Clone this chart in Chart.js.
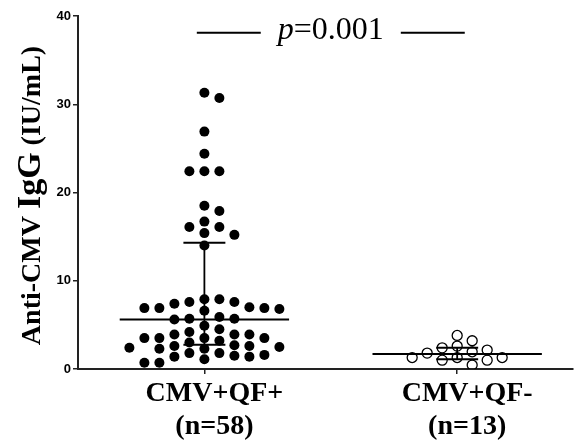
<!DOCTYPE html>
<html><head><meta charset="utf-8">
<script src="https://cdn.jsdelivr.net/npm/chart.js@4.4.0/dist/chart.umd.min.js"></script>
<style>html,body{margin:0;padding:0;background:#fff;}#wrap{width:579px;height:445px;}</style>
</head><body><div id="wrap"><canvas id="c" width="579" height="445"></canvas></div>
<script>
// ---- data ----
const categoryNames = ['CMV+QF+', 'CMV+QF-'];
const categoryCounts = ['(n=58)', '(n=13)'];
const groupPositive = [31.3, 30.7, 26.9, 24.4, 22.4, 22.4, 22.4, 18.5, 17.9, 16.7, 16.1, 16.1, 15.4, 15.2, 14.0,
  7.9, 7.9, 7.6, 7.6, 7.4, 6.9, 7.0, 6.9, 6.9, 6.8, 6.6, 5.9, 5.7, 5.6, 5.7, 4.9, 4.5, 4.2, 3.9, 3.9, 3.9,
  3.5, 3.5, 3.5, 3.5, 3.2, 3.0, 2.6, 2.5, 2.3, 2.3, 2.4, 2.6, 2.7, 1.8, 1.8, 1.6, 1.4, 1.4, 1.5, 1.1, 0.7, 0.7];
const groupNegative = [3.8, 3.2, 2.6, 2.4, 2.15, 1.95, 1.8, 1.3, 1.3, 1.3, 1.0, 1.0, 0.45];
const medians = [5.6, 1.7];
const lowerQuartiles = [2.75, 1.1];
const upperQuartiles = [14.3, 2.4];
const yTicks = [0, 10, 20, 30, 40];
const pLabelItalic = 'p';
const pLabelRest = '=0.001';
const pBracketLevel = 38.1;
const pBracketFrom = 0.97, pBracketTo = 2.03;
const yTitleParts = ['Anti-CMV ', 'IgG', ' (IU/mL)'];

// ---- styling constants ----
const MEDIAN_HALF = 0.335, CAP_HALF = 0.083;
const SERIF = '"Liberation Serif", "Times New Roman", serif';
const SANS = '"Liberation Sans", Arial, sans-serif';

function seg(x1, x2, y1, y2, w) {
  return { type: 'line', data: [{x: x1, y: y1}, {x: x2, y: y2}], borderColor: '#000', borderWidth: w,
    pointRadius: 0, showLine: true, fill: false, order: 0 };
}
const summaryDatasets = [];
[1, 2].forEach((c, i) => {
  summaryDatasets.push(seg(c - MEDIAN_HALF, c + MEDIAN_HALF, medians[i], medians[i], 2));
  summaryDatasets.push(seg(c - CAP_HALF, c + CAP_HALF, lowerQuartiles[i], lowerQuartiles[i], 2));
  summaryDatasets.push(seg(c - CAP_HALF, c + CAP_HALF, upperQuartiles[i], upperQuartiles[i], 2));
  summaryDatasets.push(seg(c, c, lowerQuartiles[i], upperQuartiles[i], 1.8));
});

// beeswarm layout computed from values in pixel space (box collision, grid-like like Prism)
function swarm(values, yPix, step, minDx, minDy) {
  const idx = values.map((v, i) => i).sort((a, b) => values[b] - values[a]);
  const placed = [], offs = new Array(values.length);
  for (const i of idx) {
    const y = yPix(values[i]);
    for (let k = 0; k < 200; k++) {
      const cands = k === 0 ? [0] : [k * step, -k * step];
      let found = null;
      for (const c of cands) {
        if (placed.every(p => Math.abs(p.x - c) >= minDx || Math.abs(p.y - y) >= minDy)) { found = c; break; }
      }
      if (found !== null) { offs[i] = found; placed.push({x: found, y}); break; }
    }
  }
  return offs;
}

const yTitlePlugin = {
  id: 'yTitle',
  afterDraw(chart) {
    const ctx = chart.ctx, area = chart.chartArea;
    const fonts = ['bold 28px ' + SERIF, 'bold 34px ' + SERIF, 'bold 28px ' + SERIF];
    let total = 0; const widths = [];
    yTitleParts.forEach((t, i) => { ctx.font = fonts[i]; const w = ctx.measureText(t).width; widths.push(w); total += w; });
    ctx.save();
    ctx.translate(40, (area.top + area.bottom) / 2 + 3);
    ctx.rotate(-Math.PI / 2);
    ctx.fillStyle = '#000'; ctx.textBaseline = 'alphabetic'; ctx.textAlign = 'left';
    let x = -total / 2;
    yTitleParts.forEach((t, i) => { ctx.font = fonts[i]; ctx.fillText(t, x, 0); x += widths[i]; });
    ctx.restore();
  }
};

const pPlugin = {
  id: 'pValue',
  afterDraw(chart) {
    const ctx = chart.ctx, xs = chart.scales.x, ys = chart.scales.y;
    const y = ys.getPixelForValue(pBracketLevel);
    const x1 = xs.getPixelForValue(pBracketFrom), x2 = xs.getPixelForValue(pBracketTo);
    const mid = (x1 + x2) / 2;
    const fI = 'italic 32px ' + SERIF, fR = '32px ' + SERIF;
    ctx.save();
    ctx.font = fI; const wI = ctx.measureText(pLabelItalic).width;
    ctx.font = fR; const wR = ctx.measureText(pLabelRest).width;
    const tw = wI + wR, gap = 17;
    ctx.fillStyle = '#000'; ctx.textBaseline = 'alphabetic'; ctx.textAlign = 'left';
    ctx.font = fI; ctx.fillText(pLabelItalic, mid - tw / 2, y + 6);
    ctx.font = fR; ctx.fillText(pLabelRest, mid - tw / 2 + wI, y + 6);
    ctx.strokeStyle = '#000'; ctx.lineWidth = 2;
    ctx.beginPath();
    ctx.moveTo(x1, y); ctx.lineTo(mid - tw / 2 - gap, y);
    ctx.moveTo(mid + tw / 2 + gap, y); ctx.lineTo(x2, y);
    ctx.stroke();
    ctx.restore();
  }
};

const chart = new Chart(document.getElementById('c'), {
  data: {
    datasets: [
      { type: 'scatter', data: groupPositive.map(v => ({x: 1, y: v})), pointRadius: 5,
        pointBackgroundColor: '#000', pointBorderColor: '#000', pointBorderWidth: 0, order: 2 },
      { type: 'scatter', data: groupNegative.map(v => ({x: 2, y: v})), pointRadius: 5,
        pointBackgroundColor: 'rgba(255,255,255,0)', pointBorderColor: '#000', pointBorderWidth: 1.3, order: 2 },
      ...summaryDatasets
    ]
  },
  options: {
    responsive: false, animation: false, devicePixelRatio: 1,
    layout: { padding: { top: 16, right: 4, left: 0, bottom: 0 } },
    plugins: { legend: { display: false }, tooltip: { enabled: false } },
    scales: {
      x: {
        type: 'linear', min: 0.5, max: 2.457,
        afterBuildTicks: s => { s.ticks = [{value: 1}, {value: 2}]; },
        afterFit: s => { s.height = 76; },
        grid: { drawOnChartArea: false, drawTicks: true, tickLength: 5, color: '#222', lineWidth: 1.5 },
        border: { display: true, color: '#222', width: 2 },
        ticks: {
          callback: v => [categoryNames[v - 1], categoryCounts[v - 1]],
          font: { family: SERIF, size: 28, weight: 'bold', lineHeight: 1.15 },
          color: '#000', padding: 4, labelOffset: 10, maxRotation: 0, autoSkip: false
        }
      },
      y: {
        min: 0, max: 40,
        afterBuildTicks: s => { s.ticks = yTicks.map(v => ({value: v})); },
        afterFit: s => { s.width = 78; },
        grid: { drawOnChartArea: false, drawTicks: true, tickLength: 5, color: '#222', lineWidth: 1.5 },
        border: { display: true, color: '#222', width: 2 },
        ticks: { font: { family: SANS, size: 13, weight: 'bold' }, color: '#000', padding: 2 }
      }
    }
  },
  plugins: [yTitlePlugin, pPlugin]
});

// place points side by side (beeswarm) using the chart's own scales
(function () {
  const xs = chart.scales.x, ys = chart.scales.y;
  const pxPerUnit = xs.getPixelForValue(2) - xs.getPixelForValue(1);
  const yPix = v => ys.getPixelForValue(v);
  const o1 = swarm(groupPositive, yPix, 7.5, 14, 10);
  const o2 = swarm(groupNegative, yPix, 7.5, 14, 10);
  chart.data.datasets[0].data = groupPositive.map((v, i) => ({x: 1 + o1[i] / pxPerUnit, y: v}));
  chart.data.datasets[1].data = groupNegative.map((v, i) => ({x: 2 + o2[i] / pxPerUnit, y: v}));
  chart.update('none');
})();
</script>
</body></html>
